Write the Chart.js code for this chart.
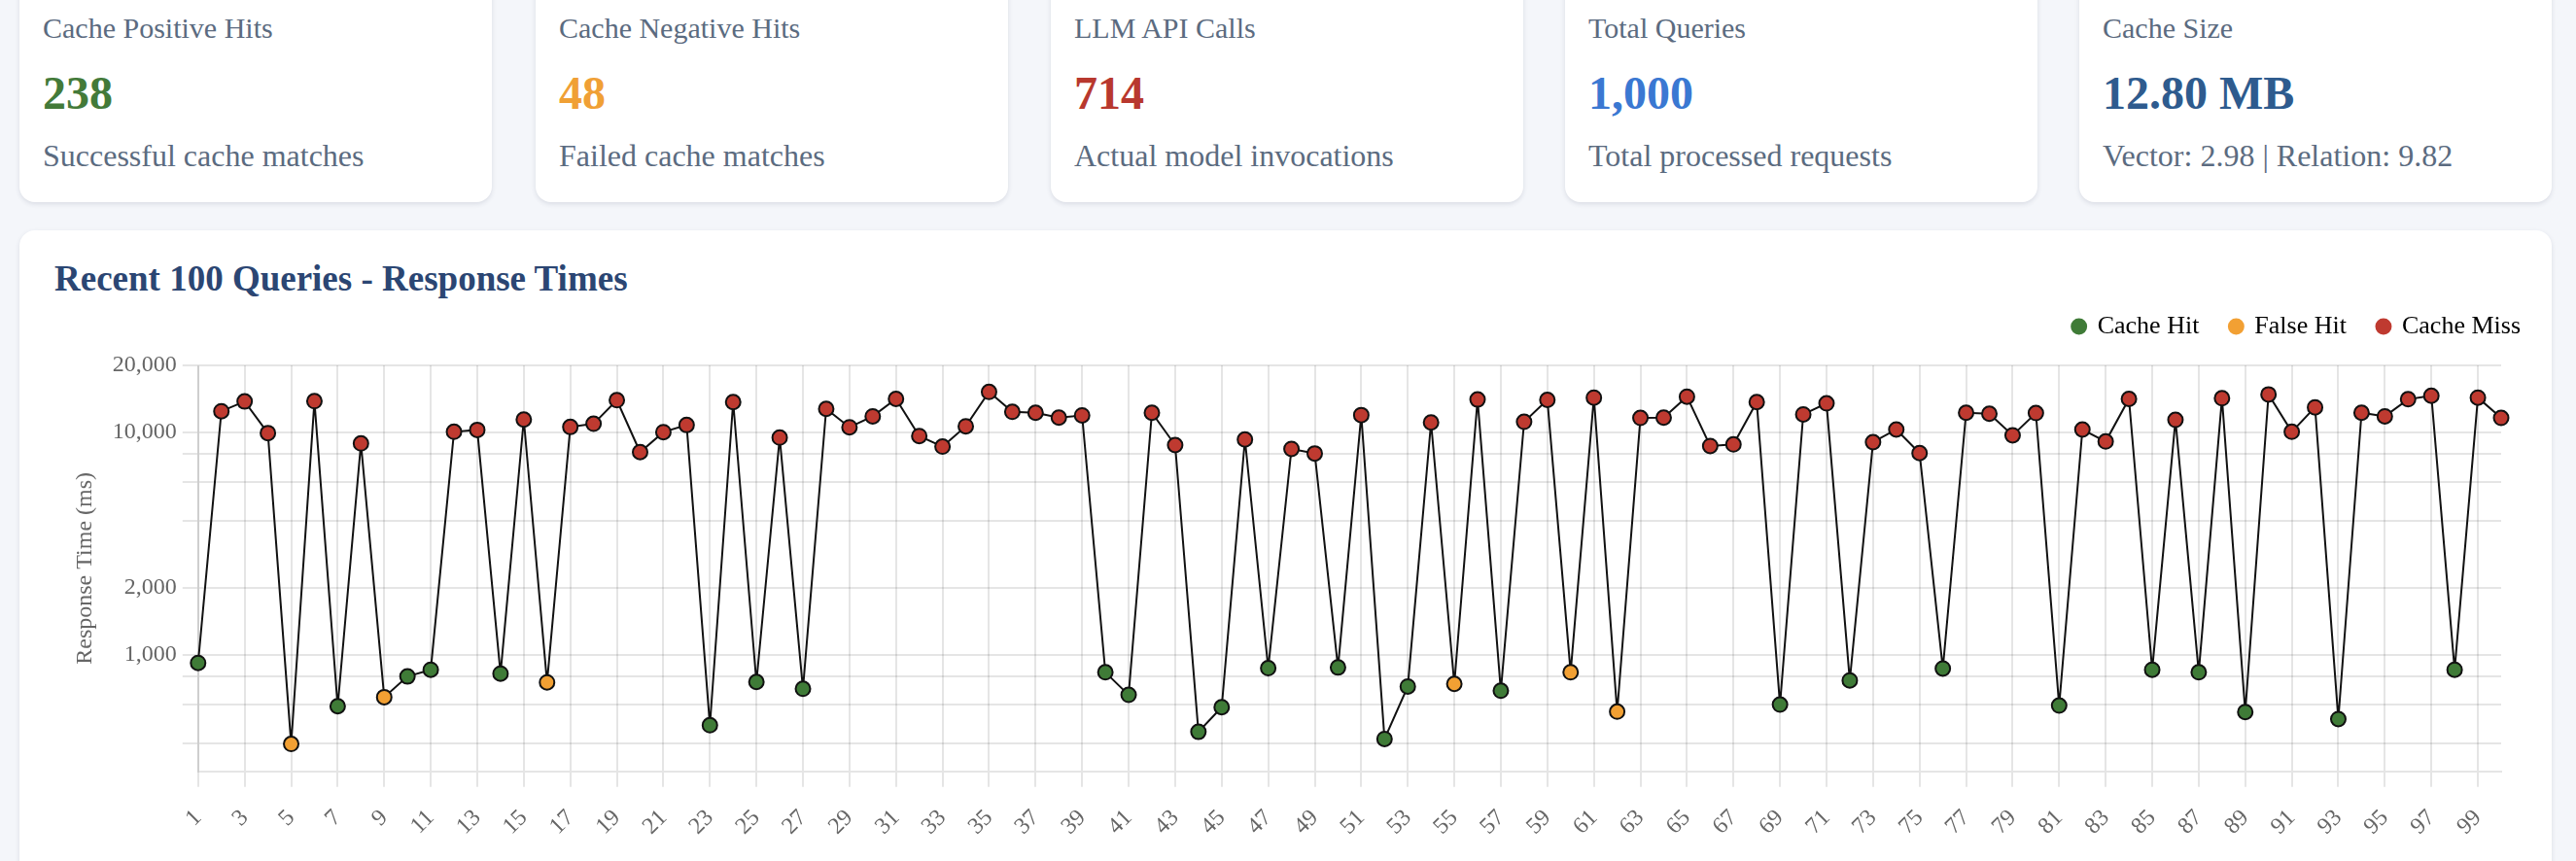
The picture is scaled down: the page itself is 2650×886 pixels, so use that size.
<!DOCTYPE html>
<html>
<head>
<meta charset="utf-8">
<title>Cache Dashboard</title>
<script src="https://cdn.jsdelivr.net/npm/chart.js@4.4.1/dist/chart.umd.min.js"></script>
<style>
  html, body { margin: 0; padding: 0; }
  body {
    width: 2650px; height: 886px; overflow: hidden; position: relative;
    background: #f4f6fa;
    font-family: 'Liberation Serif', 'Times New Roman', serif;
  }
  .card {
    position: absolute; background: #fff; border-radius: 16px;
    box-shadow: 0 2px 5px rgba(30, 45, 70, 0.12);
  }
  .stat { top: -30px; height: 238px; width: 486px; }
  .stat .lbl, .stat .num, .stat .sub { position: absolute; left: 24px; white-space: nowrap; }
  .stat .lbl { top: 44px; font-size: 30px; line-height: 30px; color: #5b6b80; }
  .stat .num { top: 102px; font-size: 48px; line-height: 48px; font-weight: bold; }
  .stat .sub { top: 174px; font-size: 32px; line-height: 32px; color: #5b6b80; }
  #chartCard { left: 20px; top: 237px; width: 2605px; height: 700px; }
  #chartCard h2 {
    position: absolute; left: 36px; top: 31px; margin: 0;
    font-size: 37px; line-height: 37px; font-weight: bold; color: #2b4673;
  }
  .chart-box { position: absolute; left: 38px; right: 0; top: 54px; height: 592px; }
</style>
</head>
<body>

<div class="card stat" style="left:20px">
  <div class="lbl">Cache Positive Hits</div>
  <div class="num" style="color:#437a39">238</div>
  <div class="sub">Successful cache matches</div>
</div>
<div class="card stat" style="left:551px">
  <div class="lbl">Cache Negative Hits</div>
  <div class="num" style="color:#f0a035">48</div>
  <div class="sub">Failed cache matches</div>
</div>
<div class="card stat" style="left:1081px">
  <div class="lbl">LLM API Calls</div>
  <div class="num" style="color:#b8382e">714</div>
  <div class="sub">Actual model invocations</div>
</div>
<div class="card stat" style="left:1610px">
  <div class="lbl">Total Queries</div>
  <div class="num" style="color:#3a78d2">1,000</div>
  <div class="sub">Total processed requests</div>
</div>
<div class="card stat" style="left:2139px">
  <div class="lbl">Cache Size</div>
  <div class="num" style="color:#2e5b8e">12.80 MB</div>
  <div class="sub">Vector: 2.98 | Relation: 9.82</div>
</div>

<div class="card" id="chartCard">
  <h2>Recent 100 Queries - Response Times</h2>
  <div class="chart-box"><canvas id="rtChart"></canvas></div>
</div>

<script>
// last 100 queries, response time in ms
const queryLabels = [
  1, 2, 3, 4, 5, 6, 7, 8, 9, 10, 11, 12, 13, 14, 15, 16, 17, 18, 19, 20,
  21, 22, 23, 24, 25, 26, 27, 28, 29, 30, 31, 32, 33, 34, 35, 36, 37, 38, 39, 40,
  41, 42, 43, 44, 45, 46, 47, 48, 49, 50, 51, 52, 53, 54, 55, 56, 57, 58, 59, 60,
  61, 62, 63, 64, 65, 66, 67, 68, 69, 70, 71, 72, 73, 74, 75, 76, 77, 78, 79, 80,
  81, 82, 83, 84, 85, 86, 87, 88, 89, 90, 91, 92, 93, 94, 95, 96, 97, 98, 99, 100
];
const responseTimes = [
  920, 12450, 13770, 9930, 398, 13810, 588, 8920, 646, 800,
  858, 10060, 10260, 824, 11420, 753, 10575, 10930, 13950, 8150,
  10030, 10790, 483, 13680, 756, 9470, 704, 12750, 10540, 11810,
  14140, 9630, 8630, 10650, 15200, 12370, 12250, 11650, 11920, 835,
  661, 12250, 8770, 451, 582, 9290, 872, 8430, 8040, 878,
  11960, 419, 721, 11080, 741, 14050, 690, 11150, 14000, 835,
  14330, 556, 11610, 11650, 14470, 8690, 8830, 13680, 598, 12040,
  13500, 768, 9040, 10300, 8070, 869, 12250, 12130, 9700, 12210,
  592, 10300, 9100, 14140, 858, 11380, 835, 14230, 554, 14810,
  10060, 12960, 515, 12250, 11810, 14090, 14610, 858, 14330, 11610
];
// H = cache hit, F = false hit, M = cache miss
const hitTypes = [
  'H','M','M','M','F','M','H','M','F','H',
  'H','M','M','H','M','F','M','M','M','M',
  'M','M','H','M','H','M','H','M','M','M',
  'M','M','M','M','M','M','M','M','M','H',
  'H','M','M','H','H','M','H','M','M','H',
  'M','H','H','M','F','M','H','M','M','F',
  'M','F','M','M','M','M','M','M','H','M',
  'M','H','M','M','M','H','M','M','M','M',
  'H','M','M','M','H','M','H','M','H','M',
  'M','M','H','M','M','M','M','H','M','M'
];
const legendNames = ['Cache Hit', 'False Hit', 'Cache Miss'];
const legendKeys = ['H', 'F', 'M'];
const legendColors = ['#3f7b37', '#f2a033', '#bf3a30'];

const colorFor = function (t) {
  return legendColors[legendKeys.indexOf(t)];
};

Chart.defaults.font.family = "'Liberation Serif', 'Times New Roman', serif";

// a bit more room between legend and plot
const legendGap = {
  id: 'legendGap',
  beforeInit: function (chart) {
    const fitLegend = chart.legend.fit;
    chart.legend.fit = function () {
      fitLegend.bind(chart.legend)();
      this.height += 17;
    };
  },
};

const gridLine = { color: 'rgba(0,0,0,0.1)', lineWidth: 2, tickLength: 16 };

window['rtChart'] = new Chart(document.getElementById('rtChart').getContext('2d'), {
  type: 'line',
  data: {
    labels: queryLabels,
    datasets: [
      {
        label: 'Response Time',
        data: responseTimes,
        borderColor: '#111',
        borderWidth: 2,
        tension: 0,
        fill: false,
        pointRadius: 7.5,
        pointHoverRadius: 8,
        pointBorderWidth: 2,
        pointBorderColor: '#111',
        pointBackgroundColor: hitTypes.map(colorFor),
      },
    ],
  },
  options: {
    responsive: true,
    maintainAspectRatio: false,
    animation: false,
    locale: 'en-US',
    devicePixelRatio: 1,
    plugins: {
      legend: {
        position: 'top',
        align: 'end',
        labels: {
          usePointStyle: true,
          boxWidth: 12,
          boxHeight: 12,
          padding: 32,
          color: '#2c3e5c',
          font: { size: 26 },
          generateLabels: function () {
            return legendNames.map(function (name, i) {
              return {
                text: name,
                fillStyle: legendColors[i],
                strokeStyle: legendColors[i],
                lineWidth: 0,
                pointStyle: 'circle',
                hidden: false,
                datasetIndex: 0,
              };
            });
          },
        },
      },
      tooltip: { enabled: false },
    },
    scales: {
      x: {
        grid: gridLine,
        border: { color: 'rgba(0,0,0,0.1)', width: 2 },
        ticks: { color: '#666', font: { size: 24 }, padding: 18, minRotation: 45, maxRotation: 45 },
        afterFit: function (scale) {
          scale.paddingRight = 52;
        },
      },
      y: {
        type: 'logarithmic',
        grid: gridLine,
        border: { color: 'rgba(0,0,0,0.1)', width: 2 },
        ticks: { color: '#666', font: { size: 24 }, padding: 6 },
        title: {
          display: true,
          text: 'Response Time (ms)',
          color: '#666',
          font: { size: 24 },
          padding: { top: 15, bottom: 8 },
        },
      },
    },
  },
  plugins: [legendGap],
});
</script>
</body>
</html>
